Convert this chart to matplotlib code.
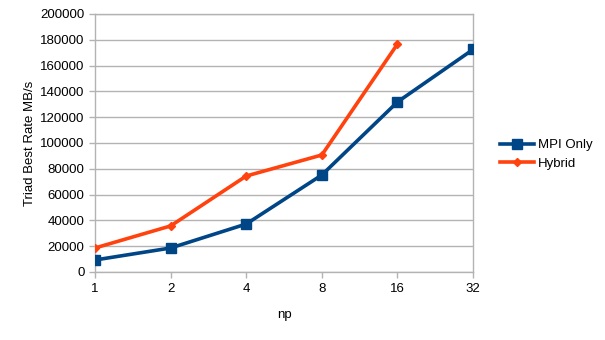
import matplotlib.pyplot as plt
import numpy as np

plt.rcParams['font.family'] = ['Liberation Sans', 'DejaVu Sans']

np_labels = ['1', '2', '4', '8', '16', '32']
mpi_only = [9300, 18600, 37200, 75200, 131800, 172500]
hybrid = [18600, 35700, 74400, 90700, 176700]

grid_col = '#b3b3b3'

fig = plt.figure(figsize=(6.05, 3.4), dpi=100)
ax = fig.add_axes([0.157, 0.2, 0.625, 0.759])

x = np.arange(len(np_labels))
ax.plot(x, mpi_only, '-s', color='#004586', linewidth=2.6, markersize=7,
        label='MPI Only', zorder=3)
ax.plot(x[:len(hybrid)], hybrid, '-D', color='#ff420e', linewidth=2.6,
        markersize=4.5, label='Hybrid', zorder=3)

ax.set_xlim(0, len(np_labels) - 1)
ax.set_ylim(0, 200000)
ax.set_xticks(x)
ax.set_xticklabels(np_labels)
ax.set_yticks(np.arange(0, 200001, 20000))
ax.yaxis.grid(True, color=grid_col, linewidth=1)
ax.set_axisbelow(True)
for s in ax.spines.values():
    s.set_color(grid_col)
    s.set_linewidth(1)
ax.tick_params(axis='both', colors=grid_col, labelcolor='black', labelsize=9.5,
               length=4, width=1)
ax.tick_params(axis='x', pad=4)

ax.set_xlabel('np', fontsize=9.5, labelpad=10)
ax.set_ylabel('Triad Best Rate MB/s', fontsize=9.5, labelpad=3)

ax.legend(loc='center left', bbox_to_anchor=(1.04, 0.455), frameon=False,
          fontsize=9.5, handlelength=2.6, handletextpad=0.3, labelspacing=0.5)

fig.savefig('out.png', dpi=100)
